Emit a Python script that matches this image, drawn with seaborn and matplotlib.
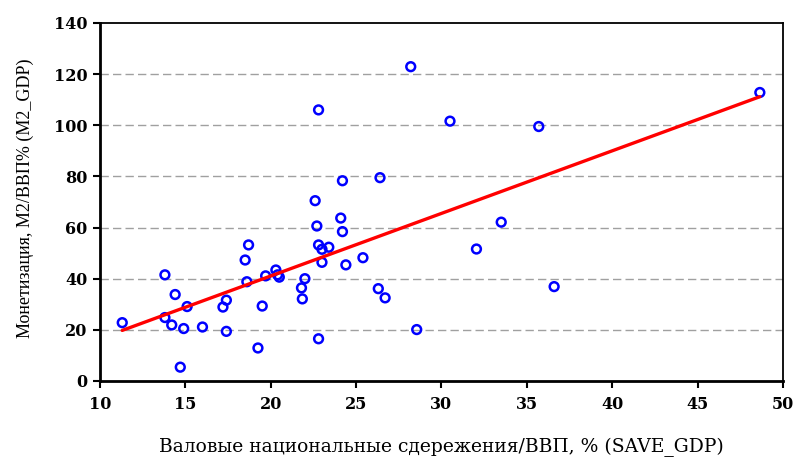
import numpy as np
import pandas as pd
import matplotlib
matplotlib.use("Agg")
import matplotlib.pyplot as plt
import seaborn as sns

save_gdp = [11.3, 13.8, 13.8, 14.4, 14.2, 14.7, 14.9, 15.1, 16.0, 17.2, 17.4, 17.4,
            18.5, 18.7, 18.6, 19.25, 19.5, 19.7, 20.3, 20.4, 20.5, 22.0, 21.8, 21.85,
            22.8, 22.8, 23.0, 23.4, 23.0, 24.2, 24.4, 25.4, 26.3, 26.7, 22.8, 22.6,
            24.2, 26.4, 24.1, 22.7, 28.2, 30.5, 35.7, 48.65, 33.5, 32.05, 36.6, 28.55]
m2_gdp = [22.8, 41.5, 24.8, 33.8, 21.9, 5.4, 20.5, 29.1, 21.1, 28.9, 31.6, 19.4,
          47.3, 53.2, 38.8, 12.9, 29.3, 41.1, 43.4, 41.5, 40.6, 40.0, 36.4, 32.1,
          16.5, 53.2, 51.5, 52.3, 46.4, 58.4, 45.4, 48.2, 36.1, 32.5, 106.0, 70.5,
          78.3, 79.5, 63.7, 60.6, 122.9, 101.6, 99.5, 112.8, 62.1, 51.6, 36.9, 20.1]

x_ticks = [10, 15, 20, 25, 30, 35, 40, 45, 50]
y_ticks = [0, 20, 40, 60, 80, 100, 120, 140]
x_label = "Валовые национальные сдережения/ВВП, % (SAVE_GDP)"
y_label = "Монетизация, M2/ВВП% (M2_GDP)"

df = pd.DataFrame({"SAVE_GDP": save_gdp, "M2_GDP": m2_gdp})

sns.set_theme(style="ticks")
plt.rcParams["font.family"] = ["DejaVu Serif"]
plt.rcParams["text.color"] = "black"
plt.rcParams["axes.labelcolor"] = "black"

fig = plt.figure(figsize=(7.94, 4.59), dpi=100)
ax = fig.add_axes([0.126, 0.170, 0.860, 0.780])

sns.regplot(data=df, x="SAVE_GDP", y="M2_GDP", ax=ax, ci=None, truncate=True,
            marker="o",
            scatter_kws=dict(s=40, facecolors="none", edgecolors="#0000ff",
                             linewidths=1.8, alpha=1.0),
            line_kws=dict(color="#ff0000", linewidth=2.4))

ax.set_xlim(10, 50)
ax.set_ylim(0, 140)
ax.set_xticks(x_ticks)
ax.set_yticks(y_ticks)
ax.set_xticklabels([str(v) for v in x_ticks], fontweight="bold", fontsize=11.5)
ax.set_yticklabels([str(v) for v in y_ticks], fontweight="bold", fontsize=11.5)

for v in y_ticks[1:-1]:
    ax.axhline(v, color="#a0a0a0", linestyle=(0, (6, 3)), linewidth=1.0, zorder=0)

for s in ax.spines.values():
    s.set_visible(True)
    s.set_color("black")
    s.set_linewidth(1.3)
ax.spines["left"].set_linewidth(2.0)
ax.spines["bottom"].set_linewidth(2.0)
ax.tick_params(axis="both", direction="out", length=5, width=1.5, colors="black",
               labelcolor="black", pad=4)
ax.tick_params(axis="x", pad=6)

ax.set_xlabel(x_label, fontsize=13.5, family=["DejaVu Serif"], color="black")
ax.set_ylabel(y_label, fontsize=13, family=["Liberation Serif"], color="black")
ax.xaxis.set_label_coords(0.5, -0.16)
ax.yaxis.set_label_coords(-0.097, 0.51)

fig.savefig("out.png", dpi=100, facecolor="white")
